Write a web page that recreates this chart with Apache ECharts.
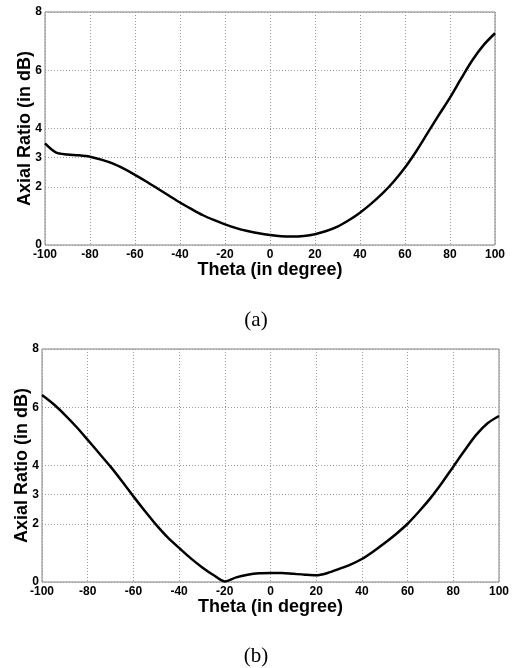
<!DOCTYPE html>
<html>
  <head>
    <meta charset="utf-8" />
    <script src="https://cdn.jsdelivr.net/npm/echarts@6.0.0/dist/echarts.min.js"></script>
    <style>
      body { margin: 0; background: #fff; }
    </style>
  </head>
  <body>
    <div id="main" style="width: 512px; height: 668px"></div>

    <script type="text/javascript">
      // theta values (degrees) and axial ratio readings for both plots
      var theta = [-100, -95, -90, -85, -80, -75, -70, -65, -60, -55, -50, -45, -40, -35, -30, -25, -20, -15, -10, -5,
                   0, 5, 10, 15, 20, 25, 30, 35, 40, 45, 50, 55, 60, 65, 70, 75, 80, 85, 90, 95, 100];
      var arA = [3.49, 3.17, 3.11, 3.08, 3.03, 2.93, 2.8, 2.62, 2.41, 2.18, 1.94, 1.7, 1.46, 1.24, 1.03, 0.86, 0.71, 0.58, 0.48, 0.4,
                 0.34, 0.3, 0.29, 0.31, 0.37, 0.48, 0.63, 0.85, 1.11, 1.42, 1.77, 2.18, 2.66, 3.22, 3.84, 4.46, 5.06, 5.72, 6.35, 6.87, 7.27];
      var arB = [6.42, 6.11, 5.74, 5.33, 4.88, 4.42, 3.96, 3.46, 2.94, 2.44, 1.96, 1.53, 1.17, 0.82, 0.51, 0.24, 0.02, 0.16, 0.25, 0.3,
                 0.31, 0.31, 0.28, 0.25, 0.23, 0.31, 0.45, 0.6, 0.79, 1.05, 1.34, 1.65, 2.0, 2.42, 2.88, 3.4, 3.96, 4.52, 5.05, 5.45, 5.7];
      var yTicks = [0, 2, 3, 4, 6, 8];
      var captions = ["(a)", "(b)"];

      var myChart = echarts.init(document.getElementById("main"));

      function pairs(ys) {
        return theta.map(function (t, i) { return [t, ys[i]]; });
      }

      var gridLine = { show: true, lineStyle: { color: "#9a9a9a", type: [1, 2], width: 1 } };
      var tickLabel = { color: "#000", fontFamily: "Liberation Sans", fontWeight: "bold", fontSize: 12 };
      var nameStyle = { color: "#000", fontFamily: "Liberation Sans", fontWeight: "bold", fontSize: 18 };

      function xAxis(idx) {
        return {
          type: "value", gridIndex: idx, min: -100, max: 100, interval: 20,
          name: "Theta (in degree)", nameLocation: "middle", nameGap: 16, nameMoveOverlap: false,
          nameTextStyle: nameStyle,
          axisLine: { show: false }, axisTick: { show: false },
          axisLabel: Object.assign({ margin: 4 }, tickLabel),
          splitLine: gridLine
        };
      }
      function yAxis(idx) {
        return {
          type: "value", gridIndex: idx, min: 0, max: 8,
          name: "Axial Ratio (in dB)", nameLocation: "middle", nameGap: 11, nameMoveOverlap: false,
          nameTextStyle: nameStyle,
          axisLine: { show: false },
          axisTick: { show: false, customValues: yTicks },
          axisLabel: Object.assign({ margin: 3, customValues: yTicks }, tickLabel),
          splitLine: gridLine
        };
      }
      function series(idx, ys) {
        return {
          type: "line", xAxisIndex: idx, yAxisIndex: idx, data: pairs(ys),
          smooth: 0.3, showSymbol: false, symbol: "none",
          lineStyle: { color: "#000", width: 2.5 }
        };
      }

      var option = {
        animation: false,
        backgroundColor: "#fff",
        title: [
          { text: captions[0], left: "center", top: 305, textStyle: { fontFamily: "Liberation Serif", fontWeight: "normal", fontSize: 21, color: "#000" } },
          { text: captions[1], left: "center", top: 641, textStyle: { fontFamily: "Liberation Serif", fontWeight: "normal", fontSize: 21, color: "#000" } }
        ],
        grid: [
          { left: 45, top: 12, width: 450, height: 233, show: true, borderColor: "#808080", borderWidth: 1, backgroundColor: "transparent" },
          { left: 42, top: 349, width: 457, height: 233, show: true, borderColor: "#808080", borderWidth: 1, backgroundColor: "transparent" }
        ],
        xAxis: [xAxis(0), xAxis(1)],
        yAxis: [yAxis(0), yAxis(1)],
        series: [series(0, arA), series(1, arB)]
      };

      myChart.setOption(option);
    </script>
  </body>
</html>
